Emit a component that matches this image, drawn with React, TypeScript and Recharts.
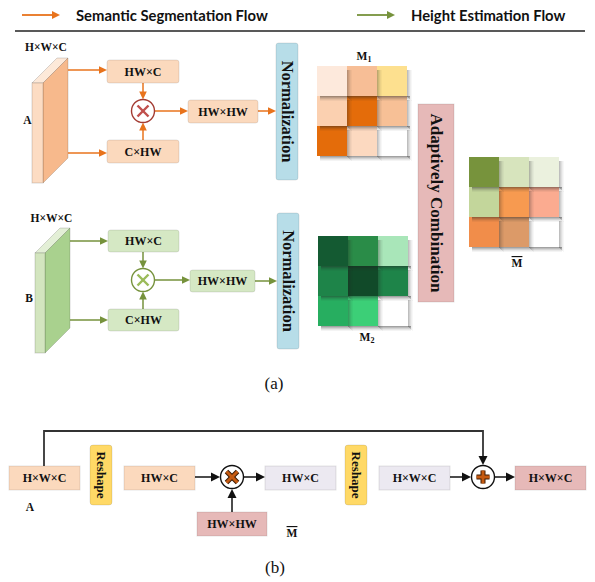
import React from 'react';
import { ScatterChart, Scatter, XAxis, YAxis } from 'recharts';

const W = 595;
const H = 582;
const ORANGE = '#e8731c';
const GREEN = '#76923c';
const SERIF = '"Liberation Serif", "Times New Roman", serif';
const SANS = 'Lato, "Open Sans", sans-serif';

// legend entries
const legendItems = [
  { x: 22, y: 15, x2: 60, label: 'Semantic Segmentation Flow', color: ORANGE },
  { x: 357, y: 15, x2: 395, label: 'Height Estimation Flow', color: GREEN },
];

// feature maps drawn as slabs
const slabs = [
  { x: 32, y: 83, depth: 11, skew: 25, h: 100, front: '#fcdcc3', top: '#fde9d9', side: '#f7b98c' },
  { x: 35, y: 253, depth: 10, skew: 25, h: 100, front: '#d3e5bf', top: '#e3efd6', side: '#a9d18e' },
];

// labelled boxes
const boxes = [
  { x: 143, y: 71.5, w: 72, h: 23, label: 'HW×C', fill: '#fbd9bd', size: 12 },
  { x: 143, y: 151.5, w: 72, h: 23, label: 'C×HW', fill: '#fbd9bd', size: 12 },
  { x: 223, y: 111.5, w: 70, h: 23, label: 'HW×HW', fill: '#fbd9bd', size: 12 },
  { x: 287, y: 111.5, w: 22, h: 137, label: 'Normalization', fill: '#b7dde8', size: 16.5, rot: true },
  { x: 143.5, y: 241, w: 71, h: 22, label: 'HW×C', fill: '#d5e8c4', size: 12 },
  { x: 143.5, y: 320, w: 71, h: 22, label: 'C×HW', fill: '#d5e8c4', size: 12 },
  { x: 222.5, y: 281, w: 65, h: 22, label: 'HW×HW', fill: '#d5e8c4', size: 12 },
  { x: 288, y: 281, w: 22, h: 136, label: 'Normalization', fill: '#b7dde8', size: 16.5, rot: true },
  { x: 436, y: 203, w: 36, h: 198, label: 'Adaptively Combination', fill: '#e6b9b8', size: 17, rot: true, r: 0 },
  { x: 44.5, y: 478, w: 71, h: 24, label: 'H×W×C', fill: '#fbd9bd', size: 12, r: 0 },
  { x: 101, y: 475, w: 22, h: 60, label: 'Reshape', fill: '#ffd966', size: 13, rot: true, r: 3 },
  { x: 159.5, y: 478, w: 71, h: 24, label: 'HW×C', fill: '#fbd9bd', size: 12, r: 0 },
  { x: 232, y: 524, w: 70, h: 24, label: 'HW×HW', fill: '#e6b9b8', size: 12, r: 0 },
  { x: 300.5, y: 478, w: 71, h: 24, label: 'HW×C', fill: '#ece9f1', size: 12, r: 0 },
  { x: 356, y: 475, w: 22, h: 60, label: 'Reshape', fill: '#ffd966', size: 13, rot: true, r: 3 },
  { x: 414.5, y: 478, w: 71, h: 24, label: 'H×W×C', fill: '#ece9f1', size: 12, r: 0 },
  { x: 550.5, y: 478, w: 71, h: 24, label: 'H×W×C', fill: '#e6b9b8', size: 12, r: 0 },
];

// multiply / add nodes
const nodes = [
  { x: 143, y: 111, op: 'x', ring: '#a33b32', mark: '#c0504d', edge: '' },
  { x: 143, y: 280, op: 'x', ring: GREEN, mark: '#9bbb59', edge: '' },
  { x: 232, y: 477, op: 'x', ring: '#111', mark: '#c55a11', edge: '#3a1a05' },
  { x: 483, y: 477, op: '+', ring: '#111', mark: '#c55a11', edge: '#3a1a05' },
];

// arrows: start (x, y) to end (x2, y2)
const arrows = [
  { x: 68, y: 70, x2: 107, y2: 70, color: ORANGE },
  { x: 68, y: 153, x2: 107, y2: 153, color: ORANGE },
  { x: 143, y: 83, x2: 143, y2: 99.5, color: ORANGE },
  { x: 143, y: 140, x2: 143, y2: 122.5, color: ORANGE },
  { x: 154.5, y: 111, x2: 188, y2: 111, color: ORANGE },
  { x: 258, y: 111, x2: 276, y2: 111, color: ORANGE },
  { x: 70, y: 241, x2: 108, y2: 241, color: GREEN },
  { x: 70, y: 320, x2: 108, y2: 320, color: GREEN },
  { x: 143, y: 252, x2: 143, y2: 268.5, color: GREEN },
  { x: 143, y: 309, x2: 143, y2: 291.5, color: GREEN },
  { x: 154.5, y: 280, x2: 190, y2: 280, color: GREEN },
  { x: 255, y: 281, x2: 277, y2: 281, color: GREEN },
  { x: 195, y: 477, x2: 220, y2: 477, color: '#111' },
  { x: 232, y: 512, x2: 232, y2: 489, color: '#111' },
  { x: 244, y: 477, x2: 265, y2: 477, color: '#111' },
  { x: 450, y: 477, x2: 471, y2: 477, color: '#111' },
  { x: 495, y: 477, x2: 515, y2: 477, color: '#111' },
];

// skip connection in (b)
const skipPath = [{ x: 44, y: 466, pts: [[44, 431], [483, 431], [483, 465]] }];

// attention matrices
const m1Colors = [
  ['#fde9dc', '#f7be96', '#fde08f'],
  ['#fbd0b0', '#e46c0a', '#f7c096'],
  ['#e46c0a', '#fcd9c0', '#ffffff'],
];
const m2Colors = [
  ['#145a32', '#2a8c48', '#a9e6b9'],
  ['#1e8449', '#114a29', '#1e8449'],
  ['#27ae60', '#3ccf77', '#ffffff'],
];
const mBarColors = [
  ['#77933c', '#d7e4bd', '#ebf1de'],
  ['#c3d69b', '#f79a50', '#fbab90'],
  ['#f18d4a', '#dc9a68', '#ffffff'],
];
const matrices = [
  { x: 317, y: 66, cell: 30, colors: m1Colors },
  { x: 318, y: 236, cell: 30, colors: m2Colors },
  { x: 469, y: 157, cell: 30, colors: mBarColors },
];

// reverse row-major: each cell's shadow falls onto the cells right of / below it
const cells = matrices.flatMap((m) =>
  m.colors
    .flatMap((row, r) => row.map((fill, c) => ({ x: m.x + c * m.cell, y: m.y + r * m.cell, side: m.cell, fill })))
    .reverse()
);

// free text
const labels = [
  { x: 46, y: 47, text: 'H×W×C', size: 11.5, bold: true },
  { x: 27.5, y: 120, text: 'A', size: 11.5, bold: true },
  { x: 51.5, y: 218, text: 'H×W×C', size: 11.5, bold: true },
  { x: 29, y: 298, text: 'B', size: 11.5, bold: true },
  { x: 364, y: 56, text: 'M', sub: '1', size: 11.5, bold: true },
  { x: 367, y: 337, text: 'M', sub: '2', size: 11.5, bold: true },
  { x: 517, y: 263, text: 'M', bar: true, size: 11.5, bold: true },
  { x: 274, y: 383, text: '(a)', size: 17, bold: false },
  { x: 30, y: 507, text: 'A', size: 11.5, bold: true },
  { x: 292, y: 533, text: 'M', bar: true, size: 11.5, bold: true },
  { x: 275, y: 567, text: '(b)', size: 17, bold: false },
];

const arrowHead = (x1: number, y1: number, x2: number, y2: number, color: string, len = 8, half = 3.8) => {
  const a = Math.atan2(y2 - y1, x2 - x1);
  const bx = x2 - len * Math.cos(a);
  const by = y2 - len * Math.sin(a);
  const px = -Math.sin(a) * half;
  const py = Math.cos(a) * half;
  return <polygon points={`${x2},${y2} ${bx + px},${by + py} ${bx - px},${by - py}`} fill={color} />;
};

const LegendShape = (props: any) => {
  const { cx, cy, payload: p } = props;
  const end = cx + (p.x2 - p.x);
  return (
    <g>
      <line x1={cx} y1={cy} x2={end - 6} y2={cy} stroke={p.color} strokeWidth={1.8} />
      {arrowHead(cx, cy, end, cy, p.color, 8, 4)}
      <text x={end + 16} y={cy} dominantBaseline="central" fontFamily={SANS} fontWeight={700} fontSize={14.8} fill="#111">
        {p.label}
      </text>
    </g>
  );
};

const SlabShape = (props: any) => {
  const { cx, cy, payload: p } = props;
  const x0 = cx;
  const x1 = cx + p.depth;
  const stroke = 'rgba(0,0,0,0.15)';
  return (
    <g>
      <polygon points={`${x0},${cy} ${x0 + p.skew},${cy - p.skew} ${x1 + p.skew},${cy - p.skew} ${x1},${cy}`} fill={p.top} stroke={stroke} />
      <polygon points={`${x1},${cy} ${x1 + p.skew},${cy - p.skew} ${x1 + p.skew},${cy - p.skew + p.h} ${x1},${cy + p.h}`} fill={p.side} stroke={stroke} />
      <rect x={x0} y={cy} width={p.depth} height={p.h} fill={p.front} stroke={stroke} />
    </g>
  );
};

const BoxShape = (props: any) => {
  const { cx, cy, payload: p } = props;
  return (
    <g>
      <rect x={cx - p.w / 2} y={cy - p.h / 2} width={p.w} height={p.h} rx={p.r ?? 2.5} fill={p.fill} stroke="rgba(0,0,0,0.1)" />
      <text
        x={cx}
        y={cy}
        transform={p.rot ? `rotate(90 ${cx} ${cy})` : undefined}
        textAnchor="middle"
        dominantBaseline="central"
        fontFamily={SERIF}
        fontWeight={700}
        fontSize={p.size}
        fill="#111"
      >
        {p.label}
      </text>
    </g>
  );
};

const NodeShape = (props: any) => {
  const { cx, cy, payload: p } = props;
  const d = 5.5;
  const segs =
    p.op === 'x'
      ? [[cx - d, cy - d, cx + d, cy + d], [cx - d, cy + d, cx + d, cy - d]]
      : [[cx - d - 1, cy, cx + d + 1, cy], [cx, cy - d - 1, cx, cy + d + 1]];
  return (
    <g>
      <circle cx={cx} cy={cy} r={11.5} fill="#fff" stroke={p.ring} strokeWidth={1.4} />
      {p.edge && segs.map((s, i) => <line key={'e' + i} x1={s[0]} y1={s[1]} x2={s[2]} y2={s[3]} stroke={p.edge} strokeWidth={5} />)}
      {segs.map((s, i) => (
        <line key={i} x1={s[0]} y1={s[1]} x2={s[2]} y2={s[3]} stroke={p.mark} strokeWidth={p.edge ? 3 : 2.4} />
      ))}
    </g>
  );
};

const ArrowShape = (props: any) => {
  const { cx, cy, payload: p } = props;
  const ex = cx + (p.x2 - p.x);
  const ey = cy + (p.y2 - p.y);
  const a = Math.atan2(ey - cy, ex - cx);
  const black = p.color === '#111';
  const len = black ? 9 : 8;
  return (
    <g>
      <line x1={cx} y1={cy} x2={ex - (len - 1) * Math.cos(a)} y2={ey - (len - 1) * Math.sin(a)} stroke={p.color} strokeWidth={1.5} />
      {arrowHead(cx, cy, ex, ey, p.color, len, black ? 4.5 : 3.8)}
    </g>
  );
};

const PathShape = (props: any) => {
  const { cx, cy, payload: p } = props;
  const pts = [[cx, cy], ...p.pts.map((q: number[]) => [cx + q[0] - p.x, cy + q[1] - p.y])];
  const last = pts[pts.length - 1];
  const prev = pts[pts.length - 2];
  const trimmed = pts.slice(0, -1).concat([[last[0], last[1] - 8]]);
  return (
    <g>
      <polyline points={trimmed.map((q) => q.join(',')).join(' ')} fill="none" stroke="#333" strokeWidth={1.8} />
      {arrowHead(prev[0], prev[1], last[0], last[1], '#111', 9, 4.5)}
    </g>
  );
};

// cell with a soft shadow: fading strips below (stronger) and to the right
const CellShape = (props: any) => {
  const { cx, cy, payload: p } = props;
  const s = p.side;
  const steps = [
    { d: 1, o: 0.42 },
    { d: 2, o: 0.3 },
    { d: 3, o: 0.2 },
    { d: 4, o: 0.11 },
    { d: 5, o: 0.05 },
  ];
  return (
    <g>
      {steps.map((t) => (
        <g key={t.d}>
          <rect x={cx + 3} y={cy + s + t.d - 1} width={s} height={1} fill="#222" fillOpacity={t.o} />
          <rect x={cx + s + t.d - 1} y={cy + 4} width={1} height={s - 4 + t.d} fill="#222" fillOpacity={t.o * 0.7} />
        </g>
      ))}
      <rect x={cx} y={cy} width={s} height={s} fill={p.fill} />
    </g>
  );
};

const LabelShape = (props: any) => {
  const { cx, cy, payload: p } = props;
  return (
    <text
      x={cx}
      y={cy}
      textAnchor="middle"
      dominantBaseline="central"
      fontFamily={SERIF}
      fontWeight={p.bold ? 700 : 400}
      fontSize={p.size}
      fill="#111"
      style={p.bar ? { textDecoration: 'overline' } : undefined}
    >
      {p.text}
      {p.sub && (
        <tspan fontSize={p.size * 0.7} dy={3}>
          {p.sub}
        </tspan>
      )}
    </text>
  );
};

const RuleShape = (props: any) => {
  const { cx, cy } = props;
  return <line x1={cx} y1={cy} x2={cx + 570} y2={cy} stroke="#222" strokeWidth={1.6} />;
};

export default function App() {
  return (
    <div style={{ position: 'absolute', left: 0, top: 0, width: W, height: H, background: '#fff' }}>
      <ScatterChart width={W} height={H} margin={{ top: 0, right: 0, bottom: 0, left: 0 }}>
        <XAxis type="number" dataKey="x" domain={[0, W]} allowDataOverflow hide />
        <YAxis type="number" dataKey="y" domain={[0, H]} allowDataOverflow reversed hide />
        <Scatter data={[{ x: 15, y: 31 }]} shape={RuleShape} isAnimationActive={false} />
        <Scatter data={legendItems} shape={LegendShape} isAnimationActive={false} />
        <Scatter data={skipPath} shape={PathShape} isAnimationActive={false} />
        <Scatter data={slabs} shape={SlabShape} isAnimationActive={false} />
        <Scatter data={cells} shape={CellShape} isAnimationActive={false} />
        <Scatter data={arrows} shape={ArrowShape} isAnimationActive={false} />
        <Scatter data={boxes} shape={BoxShape} isAnimationActive={false} />
        <Scatter data={nodes} shape={NodeShape} isAnimationActive={false} />
        <Scatter data={labels} shape={LabelShape} isAnimationActive={false} />
      </ScatterChart>
    </div>
  );
}
